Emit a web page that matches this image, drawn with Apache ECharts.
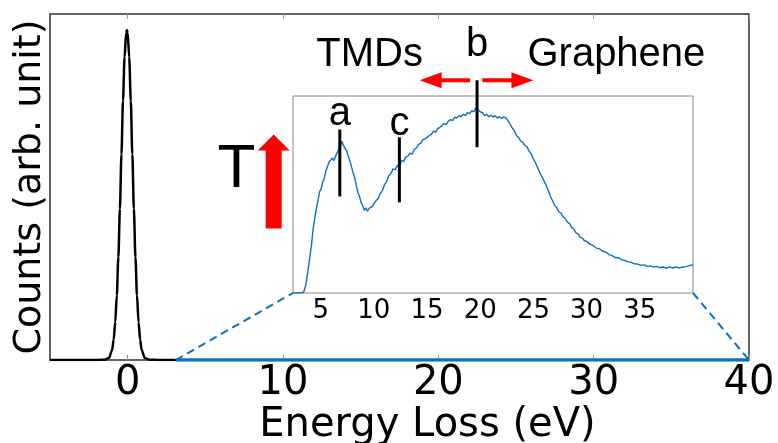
<!DOCTYPE html>
<html><head><meta charset="utf-8">
<script src="https://cdn.jsdelivr.net/npm/echarts@6/dist/echarts.min.js"></script>
<style>html,body{margin:0;padding:0;background:#fff}#c{width:778px;height:443px}</style>
</head><body><div id="c"></div>
<script>
// ---- Data ----
const mainTicks = [0, 10, 20, 30, 40];
const insetTicks = [5, 10, 15, 20, 25, 30, 35];
const zlpEnergy = [-5, -2, -1.5, -1.2, -1.0, -0.9, -0.8, -0.7, -0.6, -0.5, -0.4, -0.3, -0.2, -0.1, -0.05, 0, 0.1, 0.2, 0.3, 0.4, 0.5, 0.6, 0.7, 0.8, 0.9, 1.1, 1.4, 2, 3.1];
const zlpCounts = [0, 0, 0.001, 0.006, 0.029, 0.059, 0.109, 0.187, 0.297, 0.437, 0.595, 0.75, 0.875, 0.945, 0.954, 0.945, 0.875, 0.75, 0.595, 0.437, 0.297, 0.187, 0.109, 0.059, 0.029, 0.006, 0.001, 0, 0];
const tailEnergy = [3.1, 40];
const tailCounts = [0, 0];
const insetEnergy = [2.4,3.0,3.4,3.6,3.8,4.0,4.15,4.3,4.45,4.6,4.75,4.9,5.05,5.2,5.35,5.5,5.65,5.8,5.95,6.1,6.25,6.4,6.55,6.7,6.85,7.0,7.15,7.3,7.45,7.6,7.75,7.9,8.05,8.2,8.35,8.5,8.65,8.8,8.95,9.1,9.25,9.4,9.55,9.7,9.85,10.0,10.2,10.4,10.6,10.8,11.0,11.2,11.4,11.6,11.8,12.0,12.2,12.4,12.6,12.8,13.0,13.2,13.4,13.6,13.8,14.0,14.2,14.4,14.6,14.8,15.0,15.2,15.4,15.6,15.8,16.0,16.2,16.4,16.6,16.8,17.0,17.2,17.4,17.6,17.8,18.0,18.2,18.4,18.6,18.8,19.0,19.2,19.4,19.6,19.8,20.0,20.2,20.4,20.6,20.8,21.0,21.2,21.4,21.6,21.8,22.0,22.2,22.4,22.6,22.8,23.0,23.2,23.4,23.6,23.8,24.0,24.2,24.4,24.6,24.8,25.0,25.2,25.4,25.6,25.8,26.0,26.2,26.4,26.6,26.8,27.0,27.2,27.4,27.6,27.8,28.0,28.2,28.4,28.6,28.8,29.0,29.2,29.4,29.6,29.8,30.0,30.3,30.6,30.9,31.2,31.5,31.8,32.1,32.4,32.7,33.0,33.3,33.6,33.9,34.2,34.5,34.8,35.1,35.4,35.7,36.0,36.3,36.6,36.9,37.2,37.5,37.8,38.1,38.4,38.7,39.0,39.3,39.6,39.9,40.0];
const insetCounts = [0,0,0.004,0.04,0.11,0.19,0.25,0.33,0.38,0.43,0.47,0.515,0.53,0.565,0.585,0.62,0.63,0.665,0.655,0.685,0.672,0.695,0.69,0.73,0.745,0.77,0.748,0.755,0.72,0.71,0.67,0.64,0.61,0.585,0.545,0.51,0.49,0.46,0.445,0.42,0.432,0.415,0.43,0.425,0.44,0.45,0.468,0.48,0.505,0.52,0.55,0.565,0.595,0.605,0.63,0.625,0.648,0.64,0.672,0.668,0.69,0.695,0.71,0.705,0.73,0.735,0.755,0.76,0.778,0.782,0.79,0.8,0.805,0.822,0.815,0.835,0.84,0.85,0.86,0.855,0.872,0.88,0.875,0.893,0.888,0.9,0.895,0.908,0.9,0.915,0.91,0.925,0.92,0.94,0.93,0.92,0.915,0.9,0.908,0.895,0.902,0.893,0.9,0.888,0.895,0.886,0.894,0.89,0.875,0.858,0.838,0.825,0.8,0.79,0.772,0.765,0.748,0.742,0.72,0.705,0.68,0.66,0.635,0.612,0.59,0.568,0.545,0.52,0.49,0.468,0.445,0.432,0.412,0.405,0.385,0.378,0.36,0.352,0.332,0.325,0.305,0.3,0.282,0.278,0.265,0.262,0.248,0.242,0.228,0.225,0.212,0.208,0.195,0.19,0.18,0.178,0.168,0.165,0.158,0.156,0.148,0.147,0.14,0.143,0.135,0.138,0.131,0.135,0.128,0.132,0.125,0.133,0.127,0.132,0.126,0.131,0.134,0.138,0.143,0.14];
const markerNames = ['a', 'c', 'b'];
const markerEnergy = [6.8, 12.4, 19.7];
const markerLow = [0.49, 0.46, 0.74];
const markerHigh = [0.83, 0.79, 1.08];
const markerLabelY = [0.91, 0.86, 1.26];
const regionNames = ['TMDs', 'Graphene'];
const regionLabelX = [9.6, 32.8];
const regionLabelY = [1.21, 1.21];
const regionArrowFrom = [19.05, 20.2];
const regionArrowTo = [14.3, 25.0];
const regionArrowY = 1.08;
const tempLabel = 'T';
const tempLabelPos = [7.0, 0.548];
const tempArrow = [9.4, 0.38, 0.652];
const insetMin = 2.4, insetMax = 40;

const BLUE = '#0b72c0';
const zip = (a, b) => a.map((v, i) => [v, b[i]]);
const chart = echarts.init(document.getElementById('c'), null, {renderer: 'canvas'});

function hArrow(x0, x1, y) {
  const d = Math.sign(x1 - x0), H = 22, hh = 8, s = 2;
  return [[x0, y - s], [x1 - d * H, y - s], [x1 - d * H, y - hh], [x1, y], [x1 - d * H, y + hh], [x1 - d * H, y + s], [x0, y + s]];
}

const option = {
  animation: false,
  backgroundColor: '#fff',
  grid: [
    {left: 50, right: 29, top: 14, bottom: 83, show: true, borderColor: '#333', borderWidth: 1.5,
     containLabel: false, outerBoundsMode: 'none'},
    {left: 293, top: 96, width: 400, height: 197, show: true, borderColor: '#888', borderWidth: 1,
     backgroundColor: '#fff', z: 3, containLabel: false, outerBoundsMode: 'none'}
  ],
  xAxis: [
    {gridIndex: 0, type: 'value', min: -5, max: 40, position: 'bottom',
     axisLine: {show: false}, splitLine: {show: false},
     axisTick: {customValues: mainTicks, inside: true, length: 5, lineStyle: {color: '#999'}},
     axisLabel: {customValues: mainTicks, fontSize: 40, fontFamily: 'DejaVu Sans', color: '#000', margin: 4},
     name: 'Energy Loss (eV)', nameLocation: 'middle', nameGap: 46, nameMoveOverlap: false,
     nameTextStyle: {fontSize: 40, fontFamily: 'DejaVu Sans', color: '#000', padding: [0, 0, 0, 56]}},
    {gridIndex: 0, type: 'value', min: -5, max: 40, position: 'top',
     axisLine: {show: false}, splitLine: {show: false}, axisLabel: {show: false},
     axisTick: {customValues: mainTicks, inside: true, length: 5, lineStyle: {color: '#999'}}},
    {gridIndex: 1, type: 'value', min: insetMin, max: insetMax, position: 'bottom',
     axisLine: {show: false}, splitLine: {show: false},
     axisTick: {customValues: insetTicks, inside: true, length: 4, lineStyle: {color: '#999'}},
     axisLabel: {customValues: insetTicks, fontSize: 26, fontFamily: 'DejaVu Sans', color: '#000', margin: 5}},
    {gridIndex: 1, type: 'value', min: insetMin, max: insetMax, position: 'top',
     axisLine: {show: false}, splitLine: {show: false}, axisLabel: {show: false},
     axisTick: {customValues: insetTicks, inside: true, length: 4, lineStyle: {color: '#999'}}}
  ],
  yAxis: [
    {gridIndex: 0, type: 'value', min: 0, max: 1, axisLine: {show: false}, axisTick: {show: false},
     axisLabel: {show: false}, splitLine: {show: false},
     name: 'Counts (arb. unit)', nameLocation: 'middle', nameGap: 1, nameMoveOverlap: false,
     nameTextStyle: {fontSize: 38, fontFamily: 'DejaVu Sans', color: '#000'}},
    {gridIndex: 1, type: 'value', min: 0, max: 1, axisLine: {show: false}, axisTick: {show: false},
     axisLabel: {show: false}, splitLine: {show: false}}
  ],
  series: [
    {type: 'line', xAxisIndex: 0, yAxisIndex: 0, data: zip(zlpEnergy, zlpCounts), symbol: 'none',
     smooth: 0.3, smoothMonotone: 'x', lineStyle: {color: '#000', width: 2.5}, z: 4},
    {type: 'line', xAxisIndex: 0, yAxisIndex: 0, data: zip(tailEnergy, tailCounts), symbol: 'none',
     lineStyle: {color: BLUE, width: 3.5}, z: 4},
    {type: 'line', xAxisIndex: 2, yAxisIndex: 1, data: zip(insetEnergy, insetCounts), symbol: 'none',
     lineStyle: {color: BLUE, width: 1.4}, z: 5},
    {type: 'custom', xAxisIndex: 2, yAxisIndex: 1, z: 6,
     data: markerEnergy.map((x, i) => [x, markerLow[i], markerHigh[i], markerLabelY[i]]),
     renderItem: (params, api) => {
       const x = api.value(0);
       const p1 = api.coord([x, api.value(1)]), p2 = api.coord([x, api.value(2)]), pl = api.coord([x, api.value(3)]);
       return {type: 'group', children: [
         {type: 'line', shape: {x1: p1[0], y1: p1[1], x2: p2[0], y2: p2[1]}, style: {stroke: '#000', lineWidth: 3}},
         {type: 'text', x: pl[0], y: pl[1], style: {text: markerNames[params.dataIndex], fontSize: 40,
           fontFamily: 'Liberation Sans', fill: '#000', align: 'center', verticalAlign: 'middle'}}
       ]};
     }},
    {type: 'custom', xAxisIndex: 2, yAxisIndex: 1, z: 6,
     data: regionNames.map((n, i) => [regionLabelX[i], regionLabelY[i], regionArrowFrom[i], regionArrowTo[i]]),
     renderItem: (params, api) => {
       const pl = api.coord([api.value(0), api.value(1)]);
       const a0 = api.coord([api.value(2), regionArrowY]), a1 = api.coord([api.value(3), regionArrowY]);
       return {type: 'group', children: [
         {type: 'polygon', shape: {points: hArrow(a0[0], a1[0], a0[1])}, style: {fill: '#ff0000'}},
         {type: 'text', x: pl[0], y: pl[1], style: {text: regionNames[params.dataIndex], fontSize: 40,
           fontFamily: 'Liberation Sans', fill: '#000', align: 'center', verticalAlign: 'middle'}}
       ]};
     }},
    {type: 'custom', xAxisIndex: 0, yAxisIndex: 0, z: 6,
     data: [[tempLabelPos[0], tempLabelPos[1], tempArrow[0], tempArrow[1], tempArrow[2]]],
     renderItem: (params, api) => {
       const pl = api.coord([api.value(0), api.value(1)]);
       const b = api.coord([api.value(2), api.value(3)]), t = api.coord([api.value(2), api.value(4)]);
       const x = b[0], sw = 8, hw = 16, hl = 16;
       const pts = [[x - sw, b[1]], [x - sw, t[1] + hl], [x - hw, t[1] + hl], [x, t[1]], [x + hw, t[1] + hl], [x + sw, t[1] + hl], [x + sw, b[1]]];
       return {type: 'group', children: [
         {type: 'polygon', shape: {points: pts}, style: {fill: '#ff0000'}},
         {type: 'text', x: pl[0], y: pl[1], style: {text: tempLabel, fontSize: 62,
           fontFamily: 'Liberation Sans', fill: '#000', align: 'center', verticalAlign: 'middle'}}
       ]};
     }}
  ]
};
chart.setOption(option);

const m0 = chart.convertToPixel({gridIndex: 0}, [tailEnergy[0], 0]);
const m1 = chart.convertToPixel({gridIndex: 0}, [tailEnergy[tailEnergy.length - 1], 0]);
const i0 = chart.convertToPixel({gridIndex: 1}, [insetMin, 0]);
const i1 = chart.convertToPixel({gridIndex: 1}, [insetMax, 0]);
const dash = {stroke: BLUE, lineWidth: 2, lineDash: [8, 5]};
chart.setOption({graphic: [
  {type: 'line', z: 10, shape: {x1: m0[0], y1: m0[1], x2: i0[0], y2: i0[1]}, style: dash},
  {type: 'line', z: 10, shape: {x1: i1[0], y1: i1[1], x2: m1[0], y2: m1[1]}, style: dash}
]});
</script>
</body></html>
